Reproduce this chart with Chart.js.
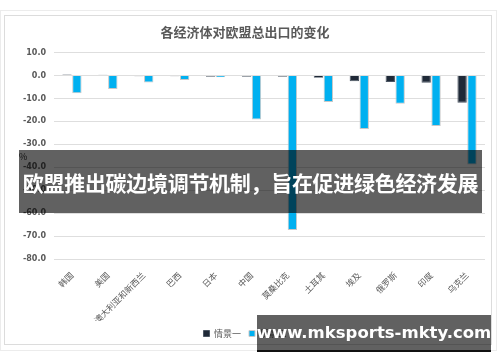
<!DOCTYPE html>
<html>
<head>
<meta charset="utf-8">
<script src="https://cdn.jsdelivr.net/npm/chart.js@4"></script>
<style>
  html, body { margin: 0; padding: 0; background: #fff; }
  body { width: 500px; height: 362px; position: relative; overflow: hidden;
         font-family: "Noto Sans CJK SC", "Noto Sans", sans-serif; }
  #outer { position: absolute; left: 0; top: 10px; width: 495px; height: 339px; border: 1px solid #ececec; }
  #inner { position: absolute; left: 4px; top: 15px; width: 486px; height: 328px; border: 1px solid #dcdcdc; }
  #wrap { position: absolute; left: 0; top: 0; width: 500px; height: 362px; }
  #pct { position: absolute; left: 19px; top: 150px; font-size: 9px; color: #333; }
  #banner { position: absolute; left: 19px; top: 150px; width: 463px; height: 63px;
            background: rgba(0,0,0,0.62); color: #fff; font-weight: bold; font-size: 21px;
            display: flex; align-items: center; justify-content: center; white-space: nowrap; letter-spacing: -0.3px; }
  #mark { position: absolute; left: 257px; top: 315px; width: 234px; height: 35px;
          background: rgba(0,0,0,0.62); border-bottom: 2px solid #111; color: #fff; font-weight: bold;
          font-size: 16.5px; font-family: "DejaVu Sans", sans-serif;
          display: flex; align-items: center; justify-content: center; white-space: nowrap; }
</style>
</head>
<body>
<div id="outer"></div>
<div id="inner"></div>
<div id="wrap"><canvas id="grafico" width="500" height="362"></canvas></div>
<div id="pct">%</div>
<div id="banner">欧盟推出碳边境调节机制，旨在促进绿色经济发展</div>
<div id="mark">www.mksports-mkty.com</div>
<script>
// Dados
const categorias = ['韩国', '美国', '澳大利亚和新西兰', '巴西', '日本', '中国', '莫桑比克', '土耳其', '埃及', '俄罗斯', '印度', '乌克兰'];
const cenario1 = [0.4, 0.3, -0.3, -0.3, -0.5, -0.5, -0.5, -1.0, -2.5, -2.8, -3.1, -11.9];
const cenario2 = [-7.7, -5.9, -3.0, -1.9, -0.8, -19.2, -67.4, -11.5, -23.3, -12.3, -22.0, -38.8];
const nomesSeries = ['情景一', '情景二'];
const titulo = '各经济体对欧盟总出口的变化';

const FONTE = '"Noto Sans CJK SC", "Noto Sans", sans-serif';

const ctx = document.getElementById('grafico').getContext('2d');
new Chart(ctx, {
  type: 'bar',
  data: {
    labels: categorias,
    datasets: [
      {
        label: nomesSeries[0],
        data: cenario1,
        backgroundColor: '#1f2937',
        borderColor: '#4b5563',
        borderWidth: 1,
        categoryPercentage: 0.55,
        barPercentage: 0.95
      },
      {
        label: nomesSeries[1],
        data: cenario2,
        backgroundColor: '#00b0f0',
        borderColor: '#c8c8c8',
        borderWidth: 1,
        categoryPercentage: 0.55,
        barPercentage: 0.95
      }
    ]
  },
  options: {
    responsive: false,
    animation: false,
    layout: { padding: { left: 5, right: 15, top: 15, bottom: 14 } },
    plugins: {
      title: {
        display: true,
        text: titulo,
        color: '#595959',
        font: { size: 13, weight: 'bold', family: FONTE },
        padding: { top: 9, bottom: 13 }
      },
      legend: {
        position: 'bottom',
        labels: {
          color: '#595959',
          font: { size: 9, family: FONTE },
          boxWidth: 6,
          boxHeight: 6,
          padding: 8
        }
      },
      tooltip: { enabled: false }
    },
    scales: {
      x: {
        grid: { display: false },
        border: { display: false },
        ticks: {
          color: '#595959',
          font: { size: 8.5, family: FONTE },
          minRotation: 45,
          maxRotation: 45,
          autoSkip: false
        },
        afterFit: s => { s.height = 62; }
      },
      y: {
        min: -80,
        max: 10,
        border: { display: false },
        grid: { color: '#dedede', drawTicks: false },
        ticks: {
          stepSize: 10,
          color: '#595959',
          padding: 8,
          font: { size: 8, weight: 'bold', family: '"DejaVu Sans", sans-serif' },
          callback: v => v.toFixed(1)
        },
        afterFit: s => { s.width = 49; }
      }
    }
  }
});
</script>
</body>
</html>
